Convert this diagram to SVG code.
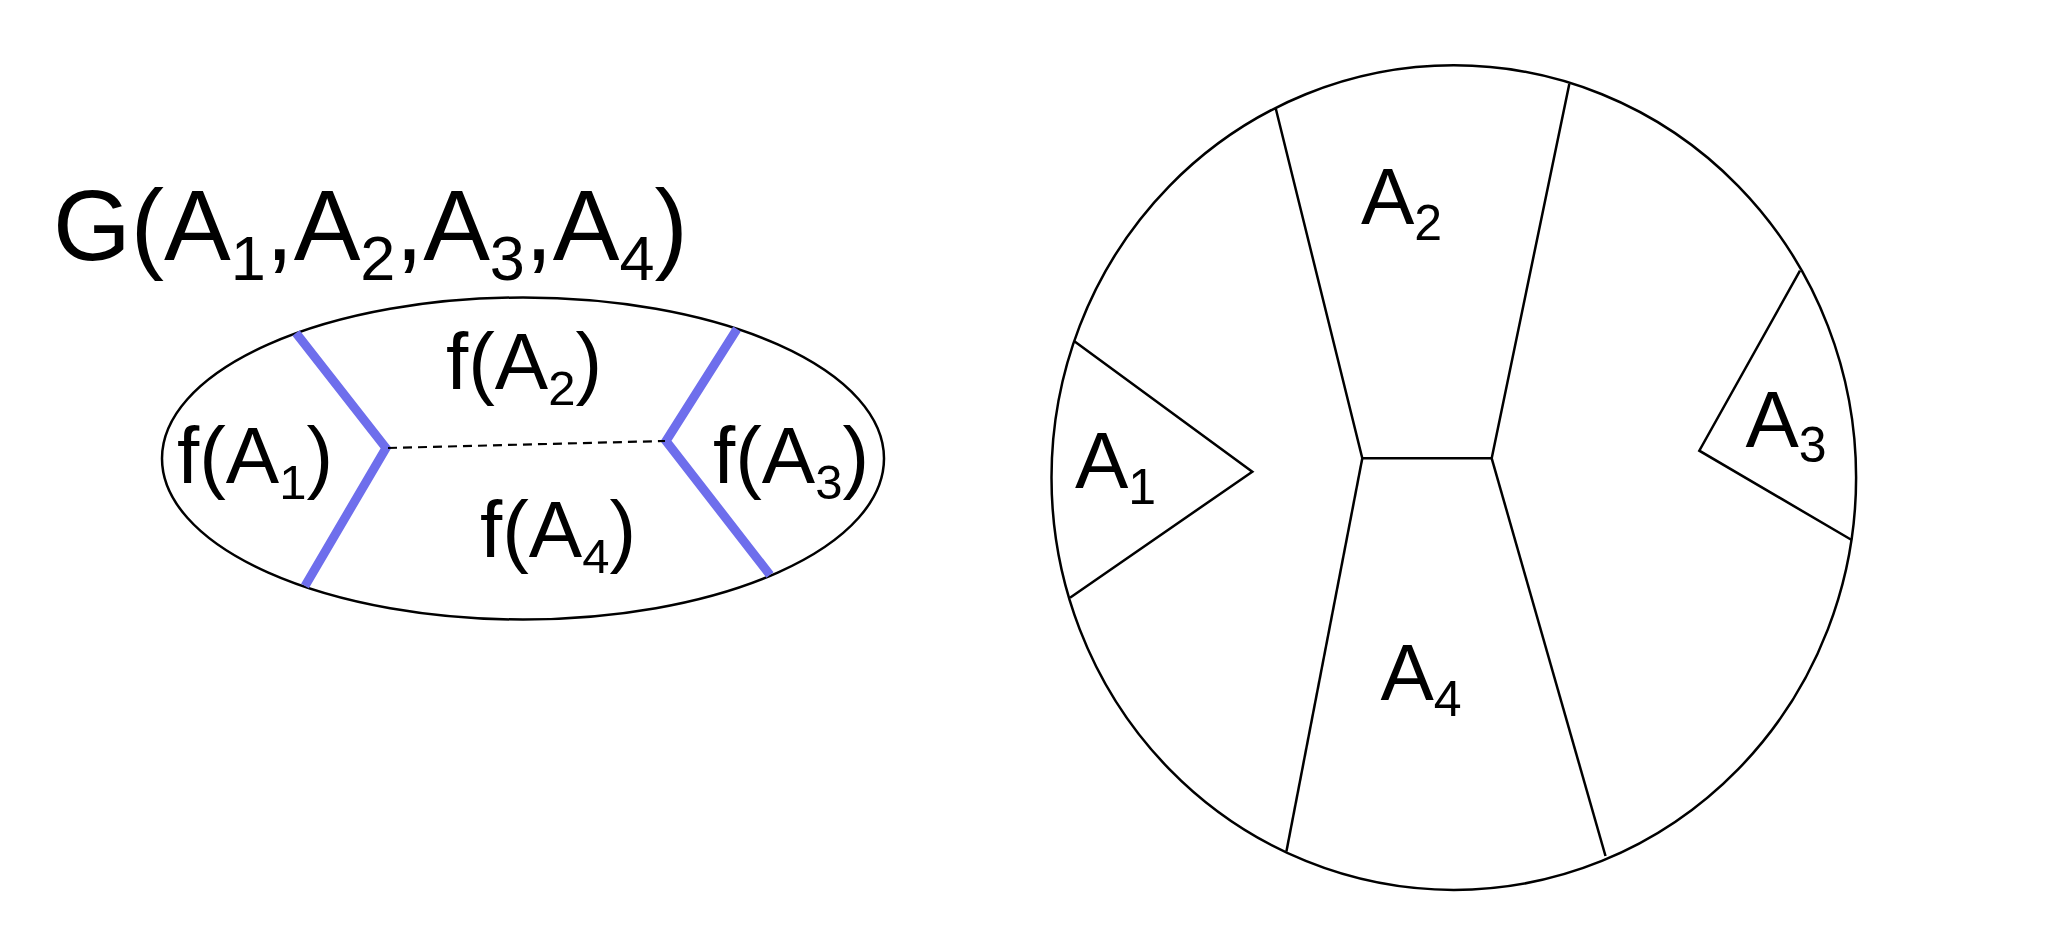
<svg xmlns="http://www.w3.org/2000/svg" width="2054" height="952" viewBox="0 0 2054 952">
<style>
.t{font-family:"Liberation Sans",Arial,sans-serif;fill:#000}
.thin{fill:none;stroke:#000;stroke-width:2.5;stroke-linejoin:miter}
.blue{fill:none;stroke:#6e6eec;stroke-width:9;stroke-linejoin:miter}
.dash{fill:none;stroke:#000;stroke-width:2.2;stroke-dasharray:9 6}
</style>
<rect width="2054" height="952" fill="#fff"/>
<g id="title">
<text class="t" x="53" y="260" font-size="100">G(A<tspan font-size="63" dy="20">1</tspan><tspan dy="-20">,A</tspan><tspan font-size="63" dy="20">2</tspan><tspan dy="-20">,A</tspan><tspan font-size="63" dy="20">3</tspan><tspan dy="-20">,A</tspan><tspan font-size="63" dy="20">4</tspan><tspan dy="-20">)</tspan></text>
</g>
<g id="graph-ellipse">
<ellipse class="thin" cx="523" cy="458.5" rx="361" ry="161"/>
</g>
<g id="connectors">
<polyline class="blue" points="296,333 386,448 305,586"/>
<polyline class="blue" points="737,329 666,441 770,575"/>
<line class="dash" x1="388" y1="448" x2="665" y2="441"/>
</g>
<g id="fA1"><text class="t" x="177" y="483" font-size="80">f(A<tspan font-size="49" dy="16">1</tspan><tspan dy="-16">)</tspan></text></g>
<g id="fA2"><text class="t" x="446" y="389" font-size="80">f(A<tspan font-size="49" dy="16">2</tspan><tspan dy="-16">)</tspan></text></g>
<g id="fA3"><text class="t" x="713" y="483" font-size="80">f(A<tspan font-size="49" dy="16">3</tspan><tspan dy="-16">)</tspan></text></g>
<g id="fA4"><text class="t" x="480" y="557" font-size="80">f(A<tspan font-size="49" dy="16">4</tspan><tspan dy="-16">)</tspan></text></g>
<g id="map">
<ellipse class="thin" cx="1453.8" cy="477.6" rx="402.3" ry="412.3"/>
<polyline class="thin" points="1074,341 1252.3,471.7 1070,597.7"/>
<polyline class="thin" points="1275.7,108.3 1362.3,458.3 1491.7,458.3 1569.3,84"/>
<polyline class="thin" points="1286.4,851.5 1362.3,458.3"/>
<polyline class="thin" points="1491.7,458.3 1605.5,856"/>
<polyline class="thin" points="1800,270.7 1699.3,450.7 1851.7,540"/>
</g>
<g id="A1"><text class="t" x="1075" y="487.7" font-size="80">A<tspan font-size="50" dy="16">1</tspan></text></g>
<g id="A2"><text class="t" x="1361" y="223.7" font-size="80">A<tspan font-size="50" dy="16">2</tspan></text></g>
<g id="A3"><text class="t" x="1745.5" y="447.3" font-size="80">A<tspan font-size="50" dy="15">3</tspan></text></g>
<g id="A4"><text class="t" x="1380.5" y="700" font-size="80">A<tspan font-size="50" dy="16">4</tspan></text></g>
</svg>
